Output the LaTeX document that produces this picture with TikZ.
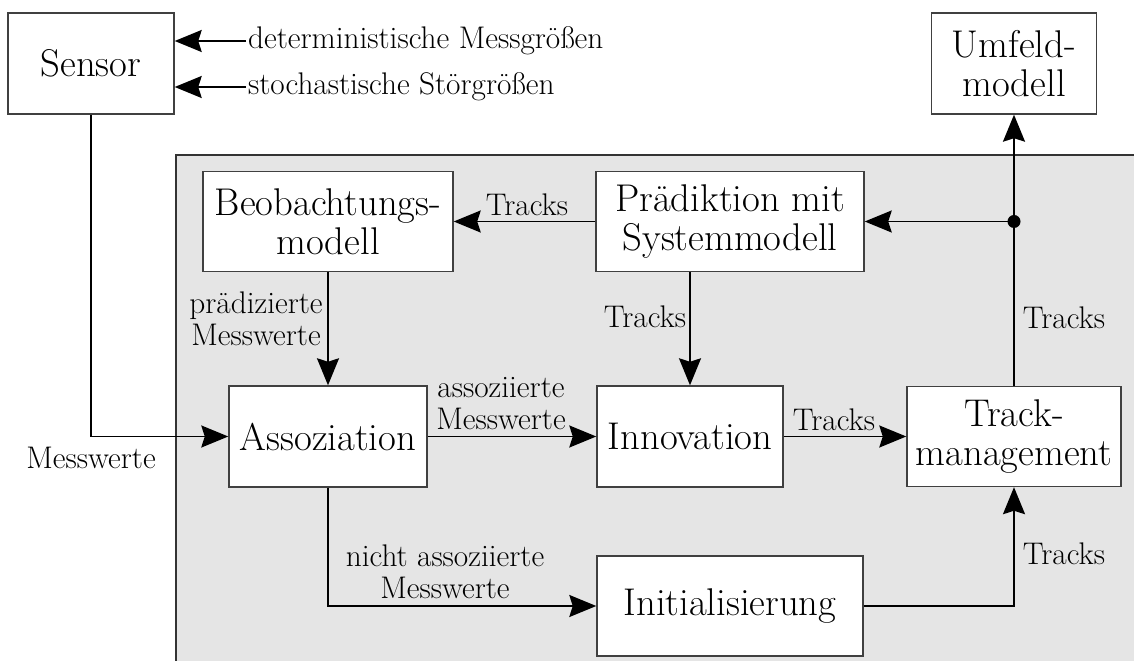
\documentclass[tikz,border=0pt]{standalone}
\usetikzlibrary{arrows.meta}

\begin{document}
\begin{tikzpicture}[x=0.2mm,y=-0.2mm,
    block/.style={draw=black!75,fill=white,line width=0.8pt,align=center,
      inner sep=0pt,font=\fontsize{22}{22}\selectfont},
    lbl/.style={align=center,inner sep=1pt,font=\fontsize{17.8}{18.2}\selectfont},
    flow/.style={line width=1.1pt,-{Stealth[length=5.4mm,width=4.4mm,inset=0.7mm]}}]
  \useasboundingbox (0,0) rectangle (1134,661);
  % grey filter area
  \fill[gray!20] (176,155) rectangle (1134,661);
  \draw[black!80,line width=0.8pt] (176,661) -- (176,155) -- (1134,155);
  % blocks
  \node[block,minimum width=33.2mm,minimum height=20.2mm] (sensor) at (91,63.5) {Sensor};
  \node[block,minimum width=33mm,minimum height=20.2mm] (umfeld) at (1014,63.5) {Umfeld-\\modell};
  \node[block,minimum width=50mm,minimum height=20mm] (beob) at (328,221.5) {Beobachtungs-\\modell};
  \node[block,minimum width=53.6mm,minimum height=20mm] (praed) at (730,221.5) {Prädiktion mit\\Systemmodell};
  \node[block,minimum width=39.6mm,minimum height=20.2mm] (assoz) at (328,436.5) {Assoziation};
  \node[block,minimum width=37.2mm,minimum height=20.2mm] (innov) at (690,436.5) {Innovation};
  \node[block,minimum width=42.8mm,minimum height=20mm] (track) at (1014,436.5) {Track-\\management};
  \node[block,minimum width=53.2mm,minimum height=20mm] (init) at (730,606) {Initialisierung};
  % inputs of the sensor
  \foreach \y/\txt in {41/deterministische Messgrößen,87/stochastische Störgrößen} {
    \node[lbl,anchor=west] (in\y) at (246,\y) {\txt};
    \draw[flow] (in\y.west) -- (sensor.east |- in\y.west);
  }
  % connections
  \coordinate (split) at (track.north |- praed.east);
  \draw[flow] (sensor.south) |- (assoz.west);
  \draw[flow] (beob.south) -- (assoz.north);
  \draw[flow] (praed.west) -- (beob.east);
  \draw[flow] (praed.south -| innov.north) -- (innov.north);
  \draw[flow] (assoz.east) -- (innov.west);
  \draw[flow] (innov.east) -- (track.west);
  \draw[flow] (track.north) -- (umfeld.south);
  \draw[flow] (split) -- (praed.east);
  \draw[flow] (assoz.south) |- (init.west);
  \draw[flow] (init.east) -| (track.south);
  \fill (split) circle (1.3mm);
  % labels
  \node[lbl] (lmess) at (91,458) {Messwerte};
  \node[lbl] (lpraed) at (256,319) {prädizierte\\Messwerte};
  \node[lbl] (lassoz) at (501,404) {assoziierte\\Messwerte};
  \node[lbl] (lnicht) at (445,571.5) {nicht assoziierte\\Messwerte};
  \node[lbl] (ltr1) at (527,205) {Tracks};
  \node[lbl] (ltr2) at (645,317) {Tracks};
  \node[lbl] (ltr3) at (834,420) {Tracks};
  \node[lbl] (ltr4) at (1064,318) {Tracks};
  \node[lbl] (ltr5) at (1064,554) {Tracks};
\end{tikzpicture}
\end{document}
